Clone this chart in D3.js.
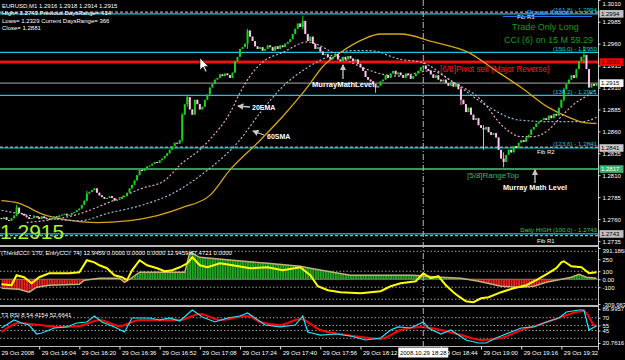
<!DOCTYPE html>
<html>
<head>
<meta charset="utf-8">
<script src="https://cdn.jsdelivr.net/npm/d3@7/dist/d3.min.js"></script>
<style>
  body { margin: 0; background: #000; }
  svg { display: block; font-family: "Liberation Sans", Arial, sans-serif; }
</style>
</head>
<body>
<svg id="chart" width="625" height="360"></svg>
<script>
// ---------------------------------------------------------------
// EURUSD M1 - precios, medias, CCI y RSI
// ---------------------------------------------------------------

// precios en pips sobre 1.2700
const BASE = 1.27;
const firstOpenPips = 61;
const closePips = [
  60,62,59,58,61,64,73,67,66,64,62,60,61,63,62,60,63,61,60,59,
  61,63,62,64,65,66,64,65,67,68,70,72,76,81,89,91,93,95,90,87,
  85,83,84,86,84,81,82,83,85,86,90,95,99,104,110,116,115,118,120,121,
  123,125,124,127,129,132,135,139,143,147,146,150,179,191,199,185,179,196,191,185,
  188,196,202,210,214,219,221,225,223,226,224,221,227,240,245,254,256,260,275,268,
  263,257,254,256,252,254,258,256,252,257,254,258,256,260,262,265,271,277,283,279,
  286,271,263,268,260,254,256,251,247,248,245,242,245,248,242,240,245,242,246,243,
  240,242,237,233,229,222,219,217,214,210,212,217,219,224,221,226,229,225,227,224,
  221,226,224,220,223,226,229,233,235,231,229,225,221,224,219,217,219,215,212,216,
  211,214,208,196,191,182,187,179,173,175,167,164,162,165,159,156,158,153,139,129,
  125,133,139,136,143,141,147,150,148,153,156,162,165,169,171,173,175,173,178,175,
  180,178,187,196,208,214,219,224,221,231,240,245,247,231,210,214,212,215
];
// barras con mecha visible (pips)
const wickBars = [6, 34, 72, 74, 98, 120, 149, 183, 192, 200, 224, 232];
const wickHigh = [76, 92, 181, 202, 277, 292, 214, 210, 167, 136, 210, 257];
const wickLow  = [63, 80, 148, 188, 254, 276, 204, 190, 139, 119, 194, 238];

// medias moviles (indice de barra, pips)
const emaIdx  = [10,19,30,42,56,65,72,79,84,91,95,99,104,112,122,128,134,139,152,158,171,180,191,200,207,212,218,223,228,234,237];
const emaPips = [56,59,65,78,95,104,124,139,154,181,204,223,239,250,262,256,246,239,225,223,229,216,196,165,154,154,162,177,191,202,208];
const smaIdx  = [0,16,31,43,55,68,83,94,103,112,122,131,139,147,159,167,180,194,206,220,231,237];
const smaPips = [70,62,58,67,75,89,118,147,181,211,233,246,252,252,242,239,216,188,173,171,171,176];
const goldIdx  = [0,7,16,26,38,50,62,72,83,91,102,112,122,128,135,144,151,159,172,186,196,207,218,226,232,237];
const goldPips = [81,78,66,59,56,58,64,73,87,116,147,177,211,234,250,265,271,271,262,250,231,210,187,176,170,169];

// niveles horizontales
const fibPrices = [1.2994, 1.2950, 1.2901, 1.2841, 1.2743];
const fibTags = ["(161.8)", "(150.0)", "(138.2)", "(123.6)", "Daily HIGH (100.0)"];
const pivotPrices = [1.2996, 1.2842, 1.2741];
const pivotNames = ["Fib R3", "Fib R2", "Fib R1"];
const murrayPrices = [1.2939, 1.2817];
const murrayNames = ["[6/8]Pivot sell (Major Reverse)", "[5/8]RangeTop"];
const lastPrice = 1.2915;
const boxPrices = [1.2994, 1.2939, 1.2915, 1.2841, 1.2817, 1.2743];
const priceTicks = [1.3010, 1.2985, 1.2960, 1.2935, 1.2910, 1.2885, 1.2860, 1.2835, 1.2810, 1.2785, 1.2760, 1.2735];

const infoLines = [
  "EURUSD,M1  1.2916 1.2918 1.2914 1.2915",
  "High= 1.2743 Previous DaysRange= 414",
  "Lows= 1.2329 Current DaysRange= 366",
  "Close= 1.2881"
];

// CCI
const trendIdx = [0,7,11,14,19,31,33,39,47,49,51,55,73,75,79,92,106,119,123,132,139,164,175,183,190,199,207,212,217,223,227,230,233,237];
const trendVal = [-112,-125,-162,-100,-75,-62,-12,12,12,-38,0,88,88,338,275,238,200,162,138,88,50,50,25,12,-25,-88,-100,-88,-38,0,25,62,25,12];
const entryIdx = [0,4,6,9,12,15,19,27,31,34,37,39,42,45,48,50,52,55,58,62,65,68,71,74,76,79,82,87,92,99,106,112,119,123,126,130,135,143,151,155,159,165,168,171,174,177,180,182,185,188,191,194,199,204,209,213,217,221,223,224,227,231,234,237];
const entryVal = [-62,-75,50,25,-50,25,75,75,88,238,212,175,138,50,25,-12,112,238,175,138,100,112,150,200,275,175,150,200,175,138,150,112,150,50,-88,-138,-162,-175,-150,-88,-50,-25,75,12,38,-75,-162,-212,-275,-288,-238,-225,-162,-112,-75,-12,62,138,212,225,162,150,75,88];
const cciTicks = [391.1868, 250, 100, 0, -100, -309.963];
const cciTickLabels = ["391.1868", "250", "100", "0.00", "-100", "-309.963"];
const cciLevels = [350, 100, -100, -250];

// RSI
const rsiIdx = [0,5,8,11,14,16,21,26,30,34,37,40,45,49,52,59,63,67,71,76,80,85,90,95,98,101,105,111,117,120,122,127,133,139,145,151,155,158,163,168,170,175,179,185,190,193,197,203,207,212,217,222,225,230,232,234,237];
const rsiVal = [50,65.6,59.7,55.8,38.3,40.2,50,52,59.7,61.7,73.4,61.7,52,42.2,69.5,69.5,65.6,69.5,63.6,85,71.4,61.7,69.5,73.4,79.2,69.5,55.8,52,55.8,73.4,42.2,36.3,38.3,34.4,26.6,30.5,46.1,52,50,61.7,50,38.3,46.1,26.6,20.8,20.8,30.5,42.2,50,52,61.7,69.5,81.1,85,85,46.1,54.4];
const t3Idx = [0,7,15,23,31,39,47,55,71,79,87,98,103,111,119,127,135,143,151,159,167,175,183,191,199,207,215,223,229,232,236,237];
const t3Val = [42.2,59.7,55.8,52,53.9,65.6,53.9,65.6,65.6,77.3,65.6,73.4,61.7,55.8,67.5,46.1,38.3,32.4,28.6,46.1,52,46.1,36.3,26.6,30.5,46.1,57.8,71.4,81.1,83.1,55.8,52.7];
const rsiTicks = [86.9957, 70, 55, 45, 20.7616];
const rsiTickLabels = ["86.9957", "70", "55", "45", "20.7616"];
const rsiLevels = [70, 55, 45, 30];

// eje de tiempo (la etiqueta 18:28 queda bajo la caja de la cruz)
const timeIdx = [-1,15,31,47,63,79,95,111,127,143,175,191,207,223];
const timeLabels = ["29 Oct 2008","29 Oct 16:04","29 Oct 16:20","29 Oct 16:36","29 Oct 16:52","29 Oct 17:08","29 Oct 17:24","29 Oct 17:40","29 Oct 17:56","29 Oct 18:12","29 Oct 18:44","29 Oct 19:00","29 Oct 19:16","29 Oct 19:32"];
const crossIdx = 168;
const crossLabel = "2008.10.29 18:28";

// ---------------------------------------------------------------
// escalas y paneles
// ---------------------------------------------------------------
const RIGHT = 598;
const FONT = "'Liberation Sans', Arial, sans-serif";
const svg = d3.select("#chart");
svg.append("rect").attr("width", 625).attr("height", 360).attr("fill", "#000");

const x = d3.scaleLinear().domain([0, 237]).range([1.5, 596.5]);
const yMain = d3.scaleLinear().domain([1.27304, 1.30098]).range([245, 0]);
const yCci = d3.scaleLinear().domain([-309.963, 391.1868]).range([304, 248]);
const yRsi = d3.scaleLinear().domain([20.7616, 86.9957]).range([343, 309]);
const px = p => BASE + p / 10000;

const defs = svg.append("defs");
[["clipMain", 0, 245], ["clipCci", 248, 57], ["clipRsi", 307, 39]].forEach(([id, y0, h]) => {
  defs.append("clipPath").attr("id", id).append("rect")
    .attr("x", 0).attr("y", y0).attr("width", RIGHT).attr("height", h);
});
defs.append("marker").attr("id", "head").attr("viewBox", "0 0 6 6")
  .attr("refX", 5).attr("refY", 3).attr("markerWidth", 5).attr("markerHeight", 5)
  .attr("orient", "auto").append("path").attr("d", "M0,0L6,3L0,6Z").attr("fill", "#c8c8c8");

function stripes(id, base, dark) {
  const p = defs.append("pattern").attr("id", id).attr("patternUnits", "userSpaceOnUse")
    .attr("x", x(0) - 1.25).attr("y", 0).attr("width", x(1) - x(0)).attr("height", 10);
  p.append("rect").attr("width", x(1) - x(0)).attr("height", 10).attr("fill", base);
  p.append("rect").attr("width", 0.8).attr("height", 10).attr("fill", dark);
}
stripes("gStripe", "#1fa81f", "#0a4a0a");
stripes("rStripe", "#e82222", "#5a0808");

// ---------------------------------------------------------------
// panel principal
// ---------------------------------------------------------------
const main = svg.append("g").attr("clip-path", "url(#clipMain)");

main.selectAll(".fib").data(fibPrices).enter().append("line")
  .attr("x1", 0).attr("x2", RIGHT).attr("y1", d => yMain(d)).attr("y2", d => yMain(d))
  .attr("stroke", "#14c8dc").attr("stroke-width", 1.2);

main.selectAll(".piv").data(pivotPrices).enter().append("line")
  .attr("x1", 0).attr("x2", RIGHT).attr("y1", d => yMain(d)).attr("y2", d => yMain(d))
  .attr("stroke", "#d0d0d0").attr("stroke-dasharray", "3,2").attr("stroke-width", 1);

main.append("line").attr("x1", 0).attr("x2", RIGHT)
  .attr("y1", yMain(lastPrice)).attr("y2", yMain(lastPrice))
  .attr("stroke", "#8a8a8a").attr("stroke-width", 1.2);

main.append("line").attr("x1", 0).attr("x2", RIGHT)
  .attr("y1", yMain(murrayPrices[0])).attr("y2", yMain(murrayPrices[0]))
  .attr("stroke", "#f01010").attr("stroke-width", 3);
main.append("line").attr("x1", 0).attr("x2", RIGHT)
  .attr("y1", yMain(murrayPrices[1])).attr("y2", yMain(murrayPrices[1]))
  .attr("stroke", "#2f9a5c").attr("stroke-width", 2);

// medias
const maLine = (idx, vals) => d3.line().curve(d3.curveMonotoneX)
  .x((d, i) => x(idx[i])).y(d => yMain(px(d)))(vals);
main.append("path").attr("d", maLine(goldIdx, goldPips))
  .attr("fill", "none").attr("stroke", "#d8a418").attr("stroke-width", 1.3);
main.append("path").attr("d", maLine(smaIdx, smaPips))
  .attr("fill", "none").attr("stroke", "#98b8d2").attr("stroke-width", 1.2).attr("stroke-dasharray", "2,2");
main.append("path").attr("d", maLine(emaIdx, emaPips))
  .attr("fill", "none").attr("stroke", "#e4a6bc").attr("stroke-width", 1.2).attr("stroke-dasharray", "2,2");

// velas
const bars = closePips.map((c, i) => {
  const o = i ? closePips[i - 1] : firstOpenPips;
  const w = wickBars.indexOf(i);
  return {
    i, o: px(o), c: px(c),
    h: px(w >= 0 ? wickHigh[w] : Math.max(o, c)),
    l: px(w >= 0 ? wickLow[w] : Math.min(o, c))
  };
});
const candle = main.selectAll(".candle").data(bars).enter().append("g");
candle.append("line")
  .attr("x1", d => x(d.i)).attr("x2", d => x(d.i))
  .attr("y1", d => yMain(d.h)).attr("y2", d => yMain(d.l))
  .attr("stroke", d => d.c >= d.o ? "#1ccf1c" : "#ff9ad6").attr("stroke-width", 1);
candle.append("rect")
  .attr("x", d => x(d.i) - 1).attr("width", 2)
  .attr("y", d => yMain(Math.max(d.o, d.c)))
  .attr("height", d => Math.max(1, Math.abs(yMain(d.o) - yMain(d.c))))
  .attr("fill", d => d.c >= d.o ? "#1ccf1c" : "#ffc4ec");

// textos del panel principal
const txt = (g, s, tx, ty, size, color, extra) => {
  const t = g.append("text").attr("x", tx).attr("y", ty).attr("font-size", size)
    .attr("fill", color).attr("font-family", FONT).text(s);
  if (extra) extra(t);
  return t;
};
infoLines.forEach((s, k) => txt(svg, s, 2, 8 + k * 7.3, 6, "#fff"));

fibPrices.forEach((p, k) => {
  txt(svg, fibTags[k] + " - " + p.toFixed(4), 597, yMain(p) - 1.8, 6.2,
    k === 4 ? "#33cc44" : "#14c8dc", t => t.attr("text-anchor", "end"));
});
const pivotX = [517, 537, 537];
pivotPrices.forEach((p, k) => txt(svg, pivotNames[k], pivotX[k], yMain(p) + 7, 6, "#fff"));

txt(svg, murrayNames[0], 440, yMain(murrayPrices[0]) + 10, 8.2, "#ff1a1a");
txt(svg, murrayNames[1], 467, yMain(murrayPrices[1]) + 8.5, 8, "#3cb371");

txt(svg, "Power Trade", 527, 15, 7.5, "#2f8fff");
svg.append("line").attr("x1", 503).attr("x2", 592).attr("y1", 16.5).attr("y2", 16.5)
  .attr("stroke", "#2f6fe0").attr("stroke-width", 1);
txt(svg, "Trade Only Long", 512, 29.5, 9, "#169c16");
txt(svg, "CCI (6) on 15 M 59.29", 504, 43, 9, "#169c16");

const bold = t => t.attr("font-weight", "bold");
txt(svg, "MurrayMathLevel", 312, 87, 7.6, "#fff", bold);
txt(svg, "Murray Math Level", 503, 190, 7.3, "#fff", bold);
txt(svg, "20EMA", 252, 109.5, 7, "#fff", bold);
txt(svg, "60SMA", 267, 138.5, 7, "#fff", bold);

const arrow = (x1, y1, x2, y2) => svg.append("line")
  .attr("x1", x1).attr("y1", y1).attr("x2", x2).attr("y2", y2)
  .attr("stroke", "#c8c8c8").attr("stroke-width", 1.3).attr("marker-end", "url(#head)");
arrow(343, 79, 343, 65);
arrow(535, 183, 535, 170);
arrow(250, 107, 238, 106);
arrow(264, 135, 253, 131);

txt(svg, lastPrice.toFixed(4), 0, 238.5, 21, "#a6f52a");

// puntero del raton
svg.append("path").attr("d", "M200,58 L200,70 L203,67 L205.5,72 L207,71.3 L204.6,66.4 L208.5,66.4 Z")
  .attr("fill", "#fff").attr("stroke", "#000").attr("stroke-width", 0.6);

// ---------------------------------------------------------------
// panel CCI
// ---------------------------------------------------------------
const cci = svg.append("g").attr("clip-path", "url(#clipCci)");
cci.selectAll(".lvl").data(cciLevels).enter().append("line")
  .attr("x1", 0).attr("x2", RIGHT).attr("y1", d => yCci(d)).attr("y2", d => yCci(d))
  .attr("stroke", "#c8c8c8").attr("stroke-dasharray", "1.5,2").attr("stroke-width", 0.8);

const trendArea = d3.area().x((d, i) => x(trendIdx[i])).y0(yCci(0)).y1(d => yCci(d));
defs.append("clipPath").attr("id", "cciPos").append("rect")
  .attr("x", 0).attr("y", 248).attr("width", RIGHT).attr("height", yCci(0) - 248);
defs.append("clipPath").attr("id", "cciNeg").append("rect")
  .attr("x", 0).attr("y", yCci(0)).attr("width", RIGHT).attr("height", 305 - yCci(0));
cci.append("path").attr("d", trendArea(trendVal)).attr("fill", "url(#gStripe)").attr("clip-path", "url(#cciPos)");
cci.append("path").attr("d", trendArea(trendVal)).attr("fill", "url(#rStripe)").attr("clip-path", "url(#cciNeg)");
cci.append("line").attr("x1", 0).attr("x2", RIGHT).attr("y1", yCci(0)).attr("y2", yCci(0))
  .attr("stroke", "#8c8466").attr("stroke-width", 1);
cci.append("path")
  .attr("d", d3.line().x((d, i) => x(trendIdx[i])).y(d => yCci(d))(trendVal))
  .attr("fill", "none").attr("stroke", "#c2b27a").attr("stroke-width", 1.4);
cci.append("path")
  .attr("d", d3.line().x((d, i) => x(entryIdx[i])).y(d => yCci(d))(entryVal))
  .attr("fill", "none").attr("stroke", "#ffff00").attr("stroke-width", 2);
txt(svg, "(TrendCCI: 170, EntryCCI: 74)  12.9459 0.0000 0.0000 0.0000 12.9459 87.4721 0.0000", 1, 254.5, 6, "#fff");

// ---------------------------------------------------------------
// panel RSI
// ---------------------------------------------------------------
const rsi = svg.append("g").attr("clip-path", "url(#clipRsi)");
rsi.selectAll(".lvl").data(rsiLevels).enter().append("line")
  .attr("x1", 0).attr("x2", RIGHT).attr("y1", d => yRsi(d)).attr("y2", d => yRsi(d))
  .attr("stroke", "#c8c8c8").attr("stroke-dasharray", "1.5,2").attr("stroke-width", 0.8);
rsi.append("path")
  .attr("d", d3.line().curve(d3.curveMonotoneX).x((d, i) => x(t3Idx[i])).y(d => yRsi(d))(t3Val))
  .attr("fill", "none").attr("stroke", "#ff0000").attr("stroke-width", 2);
rsi.append("path")
  .attr("d", d3.line().x((d, i) => x(rsiIdx[i])).y(d => yRsi(d))(rsiVal))
  .attr("fill", "none").attr("stroke", "#1ee6ff").attr("stroke-width", 1.2);
txt(svg, "T3 RSI 8 54.4154 52.6641", 1, 316.5, 6, "#fff");

// ---------------------------------------------------------------
// separadores, cruz y ejes
// ---------------------------------------------------------------
[246, 306, 346.5].forEach(yy => svg.append("line").attr("x1", 0).attr("x2", RIGHT)
  .attr("y1", yy).attr("y2", yy).attr("stroke", "#b8b8b8").attr("stroke-width", yy === 346.5 ? 1 : 2));
svg.append("line").attr("x1", RIGHT + 0.5).attr("x2", RIGHT + 0.5).attr("y1", 0).attr("y2", 350)
  .attr("stroke", "#c8c8c8").attr("stroke-width", 1);

svg.append("line").attr("x1", x(crossIdx)).attr("x2", x(crossIdx)).attr("y1", 0).attr("y2", 346)
  .attr("stroke", "#b4b4b4").attr("stroke-width", 1).attr("stroke-dasharray", "6,2,1,2");

function styleAxis(g) {
  g.attr("font-family", FONT).attr("font-size", 6);
  g.select(".domain").remove();
  g.selectAll(".tick line").attr("stroke", "#e0e0e0");
  g.selectAll(".tick text").attr("fill", "#fff");
}
const axMain = svg.append("g").attr("transform", `translate(${RIGHT + 0.5},0)`)
  .call(d3.axisRight(yMain).tickValues(priceTicks).tickFormat(d3.format(".4f")).tickSize(2).tickPadding(2));
styleAxis(axMain);
axMain.selectAll(".tick text").attr("dy", d => yMain(d) < 3 ? "0.9em" : "0.35em");

const axCci = svg.append("g").attr("transform", `translate(${RIGHT + 0.5},0)`)
  .call(d3.axisRight(yCci).tickValues(cciTicks).tickFormat((d, i) => cciTickLabels[i]).tickSize(2).tickPadding(2));
styleAxis(axCci);
axCci.selectAll(".tick text").attr("dy", (d, i) => i === 0 ? "0.75em" : "0.35em");

const axRsi = svg.append("g").attr("transform", `translate(${RIGHT + 0.5},0)`)
  .call(d3.axisRight(yRsi).tickValues(rsiTicks).tickFormat((d, i) => rsiTickLabels[i]).tickSize(2).tickPadding(2));
styleAxis(axRsi);

// cajas de precio del eje derecho
const boxBg = ["#c0c0c0", "#ff0000", "#ffffff", "#c8c8c8", "#3cb371", "#c0c0c0"];
const boxFg = ["#000", "#400", "#000", "#000", "#fff", "#000"];
boxPrices.forEach((p, k) => {
  svg.append("rect").attr("x", 599.5).attr("y", yMain(p) - 3.8).attr("width", 24).attr("height", 7.6)
    .attr("fill", boxBg[k]);
  txt(svg, p.toFixed(4), 601, yMain(p) + 2.2, 6, boxFg[k]);
});

const axTime = svg.append("g").attr("transform", "translate(0,346.5)")
  .call(d3.axisBottom(x).tickValues(timeIdx).tickFormat((d, i) => timeLabels[i]).tickSize(3).tickPadding(2));
styleAxis(axTime);
axTime.selectAll(".tick text").attr("text-anchor", "start").attr("x", 2).attr("y", 4);

svg.append("rect").attr("x", x(crossIdx) - 25).attr("y", 347.5).attr("width", 50).attr("height", 10)
  .attr("fill", "#fff");
txt(svg, crossLabel, x(crossIdx), 355, 6, "#000", t => t.attr("text-anchor", "middle"));
</script>
</body>
</html>
